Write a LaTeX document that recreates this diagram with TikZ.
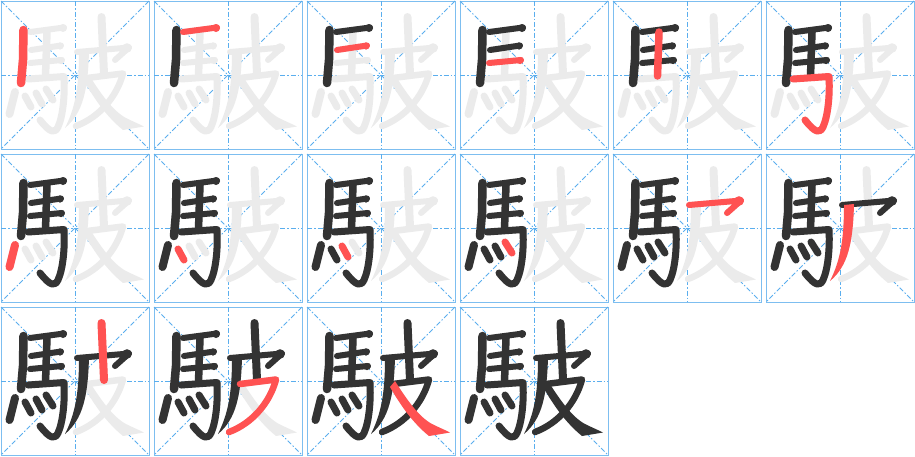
\documentclass[tikz,border=0pt]{standalone}
\usepackage{tikz}
\usepackage{xcolor}
\definecolor{gridblue}{HTML}{7DBEF0}
\definecolor{guideblue}{HTML}{5AAEEE}
\definecolor{inkdark}{HTML}{333333}
\definecolor{inkred}{HTML}{FF5252}
\definecolor{ghostgray}{HTML}{EBEBEB}
\tikzset{cell/.style={draw=gridblue, line width=1pt},
 guide/.style={draw=guideblue, line width=0.8pt, dash pattern=on 5pt off 2pt on 1.5pt off 2pt},
 brush/.style={line cap=round, line join=round},
 ink/.style={brush, color=inkdark},
 hot/.style={brush, color=inkred},
 ghost/.style={brush, color=ghostgray},
 }

% one stroke of the character, #1 = number, #2 = look
\newcommand\drawstroke[2]{%
 \ifcase#1
 \or \draw[#2, line width=8.5pt] (23.5,30) -- (23,60) -- (21,83);
 \or \draw[#2, line width=6pt] (30,32) -- (64,27.5); \fill[#2] (63,28) circle (4);
 \or \draw[#2, line width=6pt] (31,50) -- (61,45.5); \fill[#2] (60,46) circle (3.6);
 \or \draw[#2, line width=6pt] (30,63) -- (62,60); \fill[#2] (61,60.5) circle (3.6);
 \or \draw[#2, line width=7.5pt] (47,32) -- (45.5,76);
 \or \draw[#2, line width=7pt] (28,79) -- (64,76.5) .. controls (65,95) and (63,116) .. (58,127)
       .. controls (55,133) and (51,134) .. (40,120);
 \or \draw[#2, line width=8pt] (15,92) -- (9.5,114);
 \or \draw[#2, line width=7pt] (25,96) -- (31,107);
 \or \draw[#2, line width=7pt] (36,93) -- (42,104);
 \or \draw[#2, line width=7pt] (46,89) -- (53,100);
 \or \draw[#2, line width=6pt] (77,52) -- (129,47.5) -- (115,60); \fill[#2] (127,48) circle (4.8);
 \or \fill[#2] (79,52) -- (89,51) .. controls (88,90) and (83,113) .. (65,128)
       .. controls (75,108) and (79,88) .. (79,52) -- cycle;
 \or \draw[#2, line width=8pt] (101.5,17) -- (104,74);
 \or \draw[#2, line width=6.5pt] (87,78) -- (123,73.5) .. controls (117,96) and (100,117) .. (76,126);
 \or \fill[#2] (89,75) .. controls (101,94) and (113,111) .. (126,118)
       .. controls (132,121) and (138,123.5) .. (144,126.5) -- (123,130)
       .. controls (107,117) and (95,100) .. (84,81) -- cycle;
 \fi}

\begin{document}
\begin{tikzpicture}[x=1pt, y=-1pt]
  \useasboundingbox (0,0) rectangle (915,456);
  \foreach \n [evaluate=\n as \col using {int(mod(\n-1,6))},
               evaluate=\n as \row using {int((\n-1)/6)}] in {1,...,16} {
    \begin{scope}[shift={(153*\col,153*\row)}]
      \draw[cell] (1,1) rectangle (149,149);
      \draw[guide] (75,1) -- (75,149);
      \draw[guide] (1,75) -- (149,75);
      \draw[guide] (1,1) -- (149,149);
      \draw[guide] (149,1) -- (1,149);
      \ifnum\n<16
        \foreach \s in {1,...,15} {\drawstroke{\s}{ghost}}
      \fi
      \foreach \s in {1,...,15} {\ifnum\s<\n \drawstroke{\s}{ink}\fi}
      \ifnum\n<16 \drawstroke{\n}{hot}\fi
    \end{scope}
  }
\end{tikzpicture}
\end{document}
